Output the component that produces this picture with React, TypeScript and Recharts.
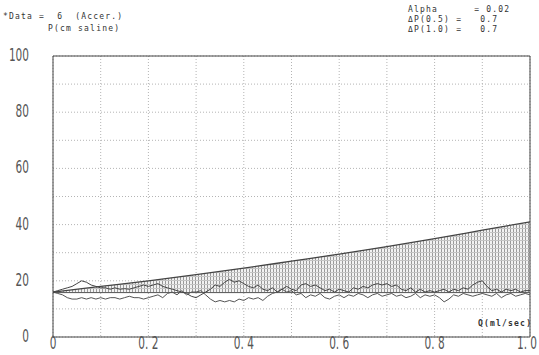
import { ComposedChart, Line, Area, XAxis, YAxis, CartesianGrid, ReferenceLine } from 'recharts';

// flow steps 0.00 .. 1.00 (ml/sec)
const q = [
  0, 0.01, 0.02, 0.03, 0.04, 0.05, 0.06, 0.07, 0.08, 0.09,
  0.1, 0.11, 0.12, 0.13, 0.14, 0.15, 0.16, 0.17, 0.18, 0.19,
  0.2, 0.21, 0.22, 0.23, 0.24, 0.25, 0.26, 0.27, 0.28, 0.29,
  0.3, 0.31, 0.32, 0.33, 0.34, 0.35, 0.36, 0.37, 0.38, 0.39,
  0.4, 0.41, 0.42, 0.43, 0.44, 0.45, 0.46, 0.47, 0.48, 0.49,
  0.5, 0.51, 0.52, 0.53, 0.54, 0.55, 0.56, 0.57, 0.58, 0.59,
  0.6, 0.61, 0.62, 0.63, 0.64, 0.65, 0.66, 0.67, 0.68, 0.69,
  0.7, 0.71, 0.72, 0.73, 0.74, 0.75, 0.76, 0.77, 0.78, 0.79,
  0.8, 0.81, 0.82, 0.83, 0.84, 0.85, 0.86, 0.87, 0.88, 0.89,
  0.9, 0.91, 0.92, 0.93, 0.94, 0.95, 0.96, 0.97, 0.98, 0.99, 1.0,
];

// measured pressure traces (cm saline)
const traceA = [
  16, 16.5, 17, 17.5, 18, 19, 20, 19.5, 18.5, 18,
  17.5, 17.5, 17, 17.5, 17, 17.2, 17, 17.5, 18, 18.5,
  18, 18.5, 19, 18, 17.5, 17, 16.5, 16, 15.5, 14.5,
  14, 15, 16, 17, 18.5, 18, 19.5, 20.5, 19.5, 20,
  19, 18, 17.5, 18.5, 17, 16.5, 17.5, 16, 17, 18,
  17, 16.5, 18.5, 19, 18, 18.5, 17.5, 16.5, 17, 16,
  17, 16.5, 16, 17.5, 17, 18, 17.5, 18.5, 19, 18.5,
  19, 18, 18.5, 17, 16.5, 17.5, 16, 17, 16, 16.5,
  16, 16.5, 17, 16, 17, 16.5, 17.5, 17, 18.5, 19.5,
  20, 18, 16.5, 17, 16, 17, 16.5, 17, 16, 16.5, 16.5,
];

const traceB = [
  16, 15.5, 15, 14, 13.5, 13.5, 14, 13.5, 14, 13.5,
  14, 13.5, 14, 14, 13.5, 14, 14.5, 14, 14, 13.5,
  14, 14.5, 15, 14, 15.5, 16, 15, 16.5, 15, 16,
  16, 16.5, 15, 13.5, 12.5, 13, 12.5, 13, 12.5, 13.5,
  13, 14, 13.5, 14, 13, 14.5, 15.5, 16, 17, 16,
  16.5, 15, 15.5, 14, 15, 14.5, 15.5, 14, 13.5, 14.5,
  15, 14, 15, 14.5, 15.5, 15, 14, 15, 15.5, 14.5,
  15, 15.5, 14.5, 15, 14, 14.5, 15.5, 14, 15, 14.5,
  15, 14, 12.5, 13.5, 15, 14.5, 15.5, 15, 14.5, 15,
  15.5, 15, 14.5, 15.5, 14, 15, 15.5, 14.5, 15, 15.5, 15,
];

// reference curve, read every 0.1
const curveQ = [0, 0.1, 0.2, 0.3, 0.4, 0.5, 0.6, 0.7, 0.8, 0.9, 1.0];
const curveP = [16, 18, 20, 22.2, 24.5, 27, 29.5, 32.2, 35, 38, 41];

const BASE = 15.8;

const yTicks = [0, 10, 20, 30, 40, 50, 60, 70, 80, 90, 100];
const xTicks = [0, 0.1, 0.2, 0.3, 0.4, 0.5, 0.6, 0.7, 0.8, 0.9, 1.0];
const yLabels = [0, 20, 40, 60, 80, 100];
const xLabels = ['0', '0. 2', '0. 4', '0. 6', '0. 8', '1. 0'];

const chartData = q.map((x, i) => {
  const k = curveQ.indexOf(x);
  return {
    q: x,
    a: traceA[i],
    b: traceB[i],
    upper: k >= 0 ? curveP[k] : null,
  };
});

const tickFont = "'DejaVu Sans', sans-serif";
const monoText: React.CSSProperties = {
  position: 'absolute',
  fontFamily: "'DejaVu Sans Mono', monospace",
  fontSize: 8,
  letterSpacing: 1.2,
  color: '#333',
  whiteSpace: 'pre',
  lineHeight: '10px',
};

// narrow, tall digits like the plotter font
const XTick = ({ x, y, payload }: any) => {
  const i = xTicks.indexOf(payload.value);
  if (i % 2 !== 0) return null;
  const last = i === xTicks.length - 1;
  return (
    <g transform={`translate(${last ? x - 3 : x},${y + 4}) scale(0.62,1)`}>
      <text x={0} y={0} textAnchor="middle" fill="#555" fontSize={17} fontFamily={tickFont}>
        {xLabels[i / 2]}
      </text>
    </g>
  );
};

const YTick = ({ x, y, payload }: any) => {
  if (!yLabels.includes(payload.value)) return null;
  return (
    <g transform={`translate(${x - 16},${y + 5}) scale(0.62,1)`}>
      <text x={0} y={0} textAnchor="end" fill="#555" fontSize={17} fontFamily={tickFont}>
        {payload.value}
      </text>
    </g>
  );
};

export default function App() {
  return (
    <div style={{ position: 'absolute', left: 0, top: 0, width: 539, height: 355, background: '#fff' }}>
      <ComposedChart width={539} height={355} data={chartData} margin={{ top: 56, right: 9, bottom: 0, left: 0 }}>
        <defs>
          <pattern id="hatch" width="3" height="4" patternUnits="userSpaceOnUse">
            <rect width="3" height="4" fill="#f2f2f2" />
            <line x1="0.5" y1="0" x2="0.5" y2="4" stroke="#9a9a9a" strokeWidth="1" />
            <line x1="0" y1="0.5" x2="3" y2="0.5" stroke="#c4c4c4" strokeWidth="1" />
          </pattern>
        </defs>
        <CartesianGrid stroke="#b4b4b4" strokeDasharray="1 2" />
        <XAxis
          dataKey="q"
          type="number"
          domain={[0, 1]}
          ticks={xTicks}
          height={18}
          tickLine={false}
          axisLine={{ stroke: '#444' }}
          tick={<XTick />}
        />
        <YAxis
          type="number"
          domain={[0, 100]}
          ticks={yTicks}
          width={53}
          tickLine={false}
          axisLine={{ stroke: '#444' }}
          tick={<YTick />}
        />
        <ReferenceLine y={100} stroke="#444" />
        <ReferenceLine x={1} stroke="#444" />
        <Area
          dataKey="upper"
          baseValue={BASE}
          type="monotone"
          connectNulls
          stroke="none"
          fill="url(#hatch)"
          fillOpacity={1}
          isAnimationActive={false}
        />
        <ReferenceLine y={BASE} stroke="#555" />
        <Line dataKey="b" type="linear" stroke="#555" strokeWidth={1} dot={false} isAnimationActive={false} />
        <Line dataKey="a" type="linear" stroke="#444" strokeWidth={1} dot={false} isAnimationActive={false} />
        <Line dataKey="upper" type="monotone" connectNulls stroke="#444" strokeWidth={1.3} dot={false} isAnimationActive={false} />
      </ComposedChart>

      <div style={{ ...monoText, left: 3, top: 12 }}>{'*Data =  6  (Accer.)'}</div>
      <div style={{ ...monoText, left: 48, top: 24 }}>{'P(cm saline)'}</div>
      <div style={{ ...monoText, left: 408, top: 5 }}>
        {'Alpha      = 0.02\nΔP(0.5) =   0.7\nΔP(1.0) =   0.7'}
      </div>
      <div style={{ ...monoText, left: 478, top: 319, fontWeight: 'bold' }}>{'Q(ml/sec)'}</div>
    </div>
  );
}
